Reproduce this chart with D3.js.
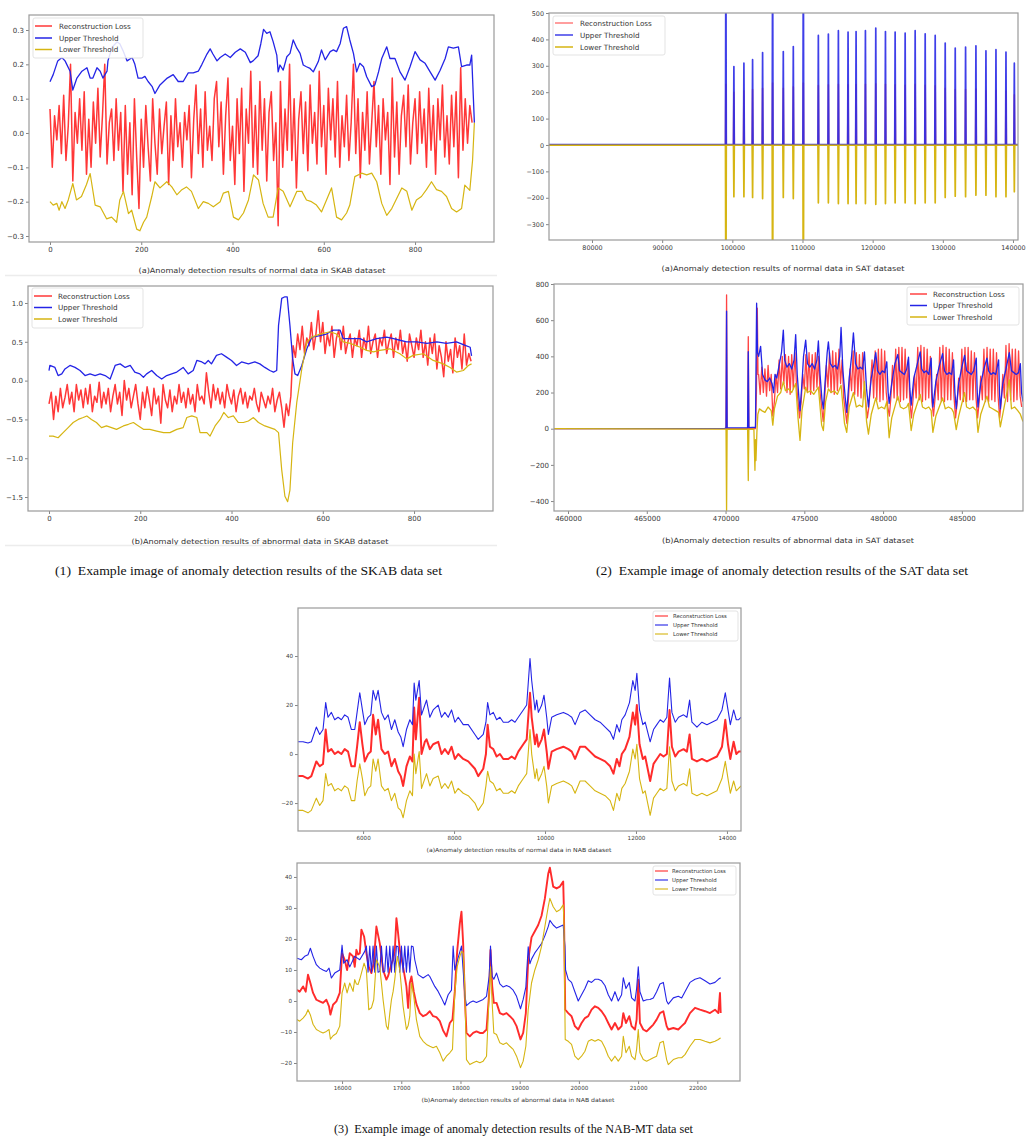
<!DOCTYPE html>
<html><head><meta charset="utf-8">
<script src="https://cdn.jsdelivr.net/npm/d3@7"></script>
<style>html,body{margin:0;padding:0;background:#fff}svg{display:block}</style>
</head><body>
<script>
// ---------------- DATA ----------------
const seriesNames = ['Reconstruction Loss','Upper Threshold','Lower Threshold'];

// (1a) SKAB normal
const skabNormStep = 5;
const skabNormRecon = [.07,-.1,.05,-.02,.08,-.06,.11,-.08,.02,.2,-.14,.06,-.03,.1,-.05,
 .12,-.12,.04,-.1,.09,-.03,.13,-.07,.05,.2,-.09,.03,.07,-.08,.1,
 -.05,.06,-.17,.08,-.12,.03,-.18,.1,-.07,-.22,.04,-.1,.08,-.04,-.14,
 .1,-.03,-.12,.07,-.06,.02,.09,-.15,.05,-.08,.1,-.04,.03,-.1,.06,
 -.02,.08,-.13,.04,.14,-.06,.07,-.1,.12,-.05,.02,-.08,.1,.15,-.04,
 .09,-.12,.05,.16,-.08,.02,-.15,.1,-.06,.13,-.17,.07,-.03,.18,-.1,
 .08,-.12,.15,-.05,.1,-.14,.06,.12,-.08,.03,-.27,.15,-.1,.07,-.05,
 .2,-.08,.1,-.16,.04,.12,-.06,.09,-.11,.14,-.03,.06,-.09,.18,-.04,
 .08,-.12,.13,-.02,.1,-.07,.15,-.1,.05,-.04,.11,-.08,.03,.2,-.06,
 .1,-.13,.06,-.05,.12,-.09,.03,.15,-.04,.08,-.12,.1,-.02,.06,-.15,
 .16,-.07,.09,-.12,.05,.11,-.04,.14,-.09,.03,.1,-.06,.12,-.03,.07,
 -.1,.13,-.05,.08,-.12,.1,-.02,.14,-.07,.05,-.09,.11,-.04,.12,-.13,
 .19,-.05,.1,-.03,.08,.03];
const skabNormUpper = [[0,.149],[7,.17],[17,.21],[26,.22],[33,.21],[44,.18],[50,.125],[59,.16],[70,.18],[81,.19],[88,.16],[94,.16],[103,.19],[110,.18],[116,.16],[125,.18],[127,.21],[136,.25],[147,.265],[153,.26],[160,.24],[169,.21],[180,.22],[186,.2],[193,.16],[202,.16],[208,.165],[215,.15],[224,.135],[230,.115],[241,.14],[257,.16],[270,.17],[281,.15],[292,.15],[303,.175],[314,.175],[325,.18],[333,.2],[344,.23],[351,.245],[357,.23],[366,.21],[373,.22],[384,.23],[395,.22],[406,.235],[417,.245],[428,.235],[439,.205],[445,.21],[456,.225],[462,.26],[468,.302],[475,.29],[482,.295],[489,.266],[497,.227],[500,.178],[504,.198],[511,.183],[519,.222],[526,.232],[533,.271],[541,.247],[548,.232],[555,.198],[562,.193],[570,.188],[577,.178],[588,.208],[595,.242],[603,.213],[614,.237],[621,.242],[628,.237],[636,.261],[643,.305],[650,.31],[657,.271],[665,.232],[672,.178],[679,.203],[687,.193],[694,.164],[705,.135],[712,.14],[720,.178],[727,.217],[738,.251],[745,.217],[756,.217],[767,.178],[778,.154],[789,.193],[800,.237],[811,.213],[822,.203],[833,.178],[844,.154],[855,.183],[866,.217],[873,.251],[884,.247],[895,.251],[902,.193],[913,.198],[920,.198],[924,.227],[928,.096],[930,.03]];
const skabNormLower = [[0,-.2],[7,-.21],[15,-.205],[20,-.225],[26,-.2],[33,-.22],[40,-.195],[50,-.147],[58,-.195],[69,-.185],[80,-.15],[88,-.118],[99,-.21],[110,-.215],[124,-.25],[135,-.245],[146,-.26],[153,-.195],[161,-.17],[172,-.235],[179,-.225],[190,-.28],[197,-.285],[205,-.26],[212,-.245],[223,-.185],[230,-.142],[241,-.16],[256,-.142],[267,-.157],[278,-.18],[289,-.165],[299,-.157],[310,-.17],[325,-.22],[336,-.2],[347,-.205],[358,-.215],[373,-.2],[380,-.175],[391,-.17],[402,-.245],[413,-.253],[424,-.233],[435,-.195],[446,-.122],[457,-.137],[467,-.205],[478,-.245],[489,-.245],[500,-.16],[511,-.17],[526,-.215],[541,-.17],[552,-.17],[562,-.195],[573,-.2],[584,-.21],[595,-.23],[606,-.195],[617,-.16],[628,-.245],[639,-.253],[650,-.233],[657,-.21],[668,-.127],[683,-.117],[694,-.122],[705,-.117],[716,-.142],[727,-.205],[738,-.24],[749,-.22],[760,-.19],[771,-.16],[782,-.17],[793,-.225],[803,-.195],[814,-.185],[825,-.165],[836,-.142],[847,-.165],[858,-.17],[869,-.185],[880,-.22],[891,-.23],[902,-.22],[909,-.152],[920,-.167],[926,-.08],[930,.03]];

// (1b) SKAB abnormal
const skabAbnStep = 5;
const skabAbnRecon = [-.3,-.15,-.5,-.2,-.4,-.1,-.35,-.22,-.05,-.3,-.15,-.4,-.05,-.25,-.12,
 -.35,-.1,-.3,-.05,-.4,-.2,-.28,-.02,-.35,-.15,-.3,-.1,-.4,-.2,-.05,
 -.3,-.15,-.45,0,-.25,-.1,-.35,-.2,-.05,-.3,-.5,-.15,-.35,-.08,-.25,
 -.45,-.1,-.3,-.2,-.55,-.05,-.25,-.35,-.12,-.4,-.2,-.3,-.05,-.28,-.15,
 -.35,-.1,-.3,-.18,-.4,-.05,-.25,-.2,-.3,.1,-.15,-.35,-.05,-.25,-.1,
 -.3,-.15,-.35,-.05,-.2,-.3,-.12,-.4,-.2,-.1,-.3,-.15,-.35,-.2,-.25,
 -.1,-.3,-.4,-.15,-.25,-.35,-.2,-.3,-.1,-.4,-.25,-.15,-.35,-.6,-.3,
 -.45,-.2,.45,.3,.6,.4,.7,.35,.55,.45,.75,.4,.6,.9,.5,
 .75,.35,.6,.45,.7,.3,.55,.65,.4,.7,.35,.5,.6,.3,.55,
 .45,.65,.3,.55,.4,.7,.35,.5,.6,.3,.55,.45,.65,.35,.5,
 .6,.3,.55,.4,.65,.35,.5,.25,.6,.45,.3,.55,.4,.65,.3,
 .5,.2,.55,.35,.6,.15,.45,.3,.05,.5,.25,.4,.1,.55,.3,
 .45,.15,.6,.2,.35,.25];
const skabAbnUpper = [[0,.13],[2,.195],[13,.17],[20,.065],[28,.087],[35,.15],[46,.195],[57,.17],[68,.13],[79,.065],[90,.087],[101,.065],[112,.087],[123,.065],[134,.02],[145,.195],[156,.216],[167,.17],[178,.195],[188,.11],[199,.087],[207,.043],[214,.087],[225,.13],[236,.065],[247,.02],[258,.065],[269,.087],[280,.11],[294,.17],[305,.087],[316,.13],[324,.26],[335,.24],[342,.216],[349,.26],[356,.216],[367,.325],[378,.346],[389,.303],[400,.26],[411,.195],[422,.24],[437,.216],[451,.24],[462,.216],[473,.17],[484,.13],[492,.11],[499,.13],[503,.71],[510,1.06],[517,1.08],[522,1.08],[528,.71],[534,.28],[539,.087],[545,.065],[554,.195],[565,.41],[576,.56],[594,.58],[608,.6],[623,.65],[638,.65],[645,.54],[660,.54],[682,.54],[696,.5],[718,.54],[740,.56],[755,.54],[769,.52],[784,.5],[806,.5],[828,.48],[850,.5],[871,.48],[893,.5],[912,.455],[923,.43],[926,.32]];
const skabAbnLower = [[0,-.715],[9,-.715],[20,-.736],[31,-.67],[42,-.606],[53,-.54],[64,-.5],[75,-.476],[83,-.455],[93,-.5],[104,-.54],[115,-.606],[126,-.584],[137,-.606],[148,-.628],[163,-.584],[174,-.563],[185,-.54],[196,-.584],[207,-.628],[221,-.628],[236,-.65],[251,-.67],[265,-.67],[280,-.628],[294,-.606],[302,-.476],[313,-.455],[324,-.476],[331,-.67],[346,-.67],[353,-.715],[364,-.584],[375,-.5],[383,-.41],[393,-.476],[404,-.455],[415,-.54],[426,-.54],[437,-.52],[448,-.476],[459,-.54],[473,-.584],[484,-.606],[495,-.628],[503,-.67],[510,-1.15],[517,-1.49],[523,-1.56],[528,-1.41],[534,-.8],[543,-.28],[554,.15],[565,.5],[576,.56],[594,.6],[616,.63],[630,.6],[645,.5],[660,.48],[682,.43],[696,.39],[711,.37],[725,.39],[747,.41],[769,.346],[784,.28],[798,.325],[820,.346],[842,.26],[864,.216],[879,.17],[893,.11],[908,.13],[919,.195],[926,.216]];

// (2a) SAT normal
const satNormRange = [73872, 140713];
const satSpikeX = [99080,100222,101650,102886,104313,105740,107263,108690,110118,112259,113687,115114,116494,117636,118968,120443,121823,123203,124630,126057,127485,128912,130339,131767,133242,134717,136144,137572,138999,140189];
const satUpperPeak = [800,297,310,323,350,800,354,373,800,415,420,433,428,430,433,443,430,428,424,433,421,415,386,367,371,376,357,361,352,310];
const satLowerPeak = [-700,-196,-196,-199,-203,-700,-199,-203,-700,-219,-219,-222,-222,-222,-222,-225,-222,-219,-219,-222,-219,-219,-199,-194,-196,-190,-190,-196,-196,-177];
const satReconPeak = [230,200,205,210,215,235,215,220,235,225,228,230,228,229,230,232,230,228,226,230,226,224,215,210,210,212,205,206,204,190];
const satBase = {recon: 0, upper: 1, lower: -1};

// (2b) SAT abnormal
const satAbnReconHead = [[459110,0],[469990,0],[470030,0],[470065,740],[470100,0],[471400,0],[471443,509],[471480,0],[471900,0],[471960,200],[472015,667],[472060,300]];
const satAbnReconTailStart = 472100, satAbnReconTailStep = 100;
const satAbnReconTail = [300,190,340,200,330,180,350,210,300,
 70,150,300,200,380,220,400,250,410,200,
 400,190,410,220,420,250,150,60,150,300,
 220,410,200,420,190,410,210,420,230,400,
 200,120,40,180,350,230,420,200,430,190,
 420,210,440,250,380,170,100,30,160,330,
 210,430,190,420,180,410,170,420,240,150,
 60,120,250,380,170,430,160,440,150,440,
 160,430,200,120,70,180,350,170,440,160,
 450,150,450,160,440,170,380,150,60,160,
 300,170,450,160,460,150,450,160,440,170,
 400,150,70,170,300,160,450,150,460,150,
 450,160,440,160,420,180,60,140,280,160,
 440,150,450,150,450,160,430,160,420,170,
 60,150,290,160,440,150,450,150,440,160,
 440,150,420,180,60,150,300,170,460,150,
 470,160,440,150,440,160,430,180,120];
const satAbnUpper = [[459110,0],[469950,2],[470030,4],[470065,650],[470100,5],[471400,5],[471443,426],[471480,6],[471900,8],[471972,694],[472030,420],[472100,400],[472226,455],[472350,300],[472500,270],[472650,260],[472800,280],[472950,250],[473050,200],[473138,300],[473250,280],[473400,350],[473550,420],[473668,545],[473750,380],[473900,340],[474050,360],[474200,330],[474350,380],[474452,520],[474550,300],[474650,180],[474727,100],[474850,250],[474950,400],[475087,490],[475200,360],[475350,340],[475500,360],[475650,330],[475800,380],[475893,485],[476000,300],[476120,160],[476210,110],[476350,300],[476450,420],[476528,480],[476650,360],[476800,340],[476950,350],[477100,330],[477250,400],[477333,560],[477450,320],[477600,170],[477693,90],[477850,280],[478000,400],[478117,530],[478250,360],[478400,330],[478550,340],[478700,330],[478817,425],[478950,220],[479071,120],[479250,280],[479400,350],[479537,420],[479650,320],[479800,300],[479950,320],[480100,310],[480236,370],[480320,200],[480385,140],[480550,250],[480750,360],[480936,410],[481050,320],[481200,310],[481350,300],[481500,330],[481614,395],[481700,220],[481783,130],[481950,280],[482150,350],[482355,425],[482450,330],[482600,310],[482750,320],[482900,300],[483054,390],[483110,200],[483160,120],[483350,260],[483550,340],[483775,415],[483900,320],[484050,300],[484200,310],[484350,300],[484474,380],[484560,200],[484644,110],[484800,250],[485000,340],[485174,405],[485300,320],[485450,310],[485600,300],[485750,320],[485915,390],[485970,220],[486022,120],[486200,250],[486400,330],[486593,390],[486700,320],[486850,300],[487000,310],[487150,300],[487335,380],[487390,200],[487442,110],[487600,250],[487800,330],[488013,420],[488150,320],[488300,310],[488450,300],[488600,310],[488712,360],[488790,200],[488880,150]];
const satAbnLower = [[459110,0],[469950,-2],[470030,-3],[470065,-460],[470100,-3],[471400,-3],[471443,-287],[471480,-3],[471800,-3],[471866,-230],[471900,-60],[471930,-176],[471990,-20],[472050,80],[472150,110],[472300,100],[472500,90],[472700,120],[472900,100],[473000,20],[473100,110],[473300,180],[473500,200],[473668,260],[473800,210],[474000,220],[474200,200],[474452,250],[474600,60],[474727,-65],[474850,100],[475000,180],[475087,230],[475200,200],[475400,210],[475600,190],[475893,230],[476100,20],[476210,-10],[476350,150],[476528,220],[476700,200],[476900,210],[477100,190],[477333,240],[477550,30],[477693,-20],[477850,120],[478117,200],[478300,120],[478500,130],[478700,120],[478817,260],[478950,40],[479071,-30],[479250,80],[479537,170],[479700,110],[479900,120],[480100,110],[480236,150],[480385,-50],[480550,60],[480936,180],[481100,120],[481300,110],[481500,120],[481614,140],[481783,-10],[481950,80],[482355,190],[482500,120],[482700,110],[482900,120],[483054,100],[483160,-20],[483350,70],[483775,170],[483950,110],[484150,120],[484350,110],[484474,90],[484644,-5],[484800,70],[485174,200],[485300,120],[485500,110],[485700,120],[485915,100],[486022,-20],[486200,80],[486593,180],[486750,120],[486950,110],[487150,100],[487335,90],[487442,10],[487600,80],[488013,270],[488150,110],[488350,120],[488550,100],[488712,80],[488880,40]];

// (3a) NAB normal
const nabNormX = [4569,4679,4789,4862,4972,5046,5119,5178,5229,5303,5376,5450,5523,5596,5670,5743,5817,5868,5927,5985,6037,6110,6169,6220,6279,6330,6404,6477,6551,6624,6697,6771,6829,6881,6954,7028,7086,7123,7160,7233,7285,7358,7395,7468,7541,7652,7725,7798,7872,7945,8019,8092,8202,8312,8459,8532,8642,8701,8738,8789,8863,8936,9009,9083,9193,9266,9340,9413,9523,9597,9670,9707,9780,9817,9854,9927,9978,10037,10074,10147,10257,10404,10514,10588,10661,10771,10881,10991,11101,11211,11322,11432,11505,11578,11637,11689,11762,11857,11931,11982,12019,12078,12151,12202,12312,12386,12459,12533,12606,12679,12738,12790,12863,12936,13046,13120,13179,13230,13340,13450,13560,13670,13780,13891,13964,14023,14074,14147,14206,14258,14309];
const nabNormUpper = [5,5,4.5,5,11,8,10,21,15,17,14,15,14,16,15,10,10,17,25,18,12,15,16,26,22,26,17,14,16,10,14,9,7,3,10,14,12,29,22,30,16,20,22,15,18,20,15,17,15,18,13,15,12,12,8,6,8,13,21,16,17,14,15,13,13,14,13,15,18,20,39,30,18,22,17,20,24,15,8,15,16,17,16,15,12,17,18,16,14,13,11,9,6,12,9,14,16,21,30,26,33,18,12,13,5,10,12,14,13,15,31,17,13,15,16,15,22,13,11,13,12,13,14,18,25,18,12,18,14,14,15];
const nabNormRecon = [-9,-9,-10,-9,-3,-5,-4,10,1,2,0,1,0,2,1,-5,-5,3,13,4,-3,0,1,16,8,14,2,0,1,-5,-2,-7,-9,-13,-5,-1,-3,19,6,23,0,5,6,2,4,5,0,2,0,3,-2,0,-2,-3,-6,-9,-6,0,12,3,2,-1,0,-2,-2,-1,-2,1,4,6,25,15,4,8,3,6,10,1,-6,1,2,3,2,1,-2,3,3,1,-1,-2,-3,-5,-8,-2,-5,0,2,7,17,12,20,4,-2,-1,-11,-4,-2,0,-1,0,18,3,-1,1,2,1,8,-2,-3,-2,-3,-2,-1,3,14,4,-2,5,0,1,1];
const nabNormLower = [-23,-23,-24,-23,-18,-21,-19,-8,-13,-12,-15,-14,-15,-13,-14,-19,-19,-11,-4,-10,-17,-14,-13,-2,-7,-2,-13,-15,-14,-19,-16,-22,-23,-26,-19,-15,-17,0,-8,1,-14,-10,-8,-13,-10,-9,-14,-12,-14,-11,-16,-14,-16,-17,-20,-23,-20,-13,-7,-11,-12,-15,-14,-16,-16,-15,-16,-13,-10,-8,10,0,-10,-6,-11,-8,-5,-13,-20,-13,-12,-11,-12,-13,-16,-11,-11,-13,-15,-16,-17,-19,-23,-16,-19,-14,-12,-7,2,-2,4,-10,-16,-15,-25,-18,-16,-14,-15,-14,3,-11,-15,-13,-12,-13,-6,-16,-17,-16,-17,-16,-15,-10,-3,-10,-16,-11,-15,-14,-13];

// (3b) NAB abnormal
const nabAbnX = [15239,15284,15341,15386,15425,15465,15510,15566,15623,15679,15735,15780,15803,15848,15904,15961,16000,16045,16085,16130,16186,16214,16242,16270,16299,16327,16372,16411,16451,16496,16535,16580,16637,16693,16749,16777,16806,16834,16862,16890,16918,16935,16975,17031,17087,17116,17144,17172,17211,17256,17313,17369,17425,17482,17538,17594,17651,17707,17763,17820,17865,17904,17944,17989,18017,18045,18073,18101,18158,18214,18270,18327,18383,18440,18485,18507,18535,18563,18609,18665,18721,18778,18834,18890,18947,19014,19059,19104,19144,19200,19256,19313,19369,19425,19482,19510,19566,19623,19679,19735,19747,19769,19820,19876,19932,19989,20045,20102,20158,20214,20271,20327,20383,20440,20496,20552,20609,20665,20721,20750,20795,20851,20890,20947,20975,21003,21031,21087,21144,21200,21257,21313,21369,21426,21482,21510,21595,21679,21736,21792,21876,21961,22045,22130,22214,22299,22355,22383,22395];
const nabAbnRecon = [3.6,3,4.7,3,8.5,5.8,2.6,0.4,-0.1,-0.6,0.4,-1.7,-4.4,-1.2,-0.1,2.6,15.4,13.3,10,15.4,14.4,11,16.5,15,15.4,23,20.8,15.4,11,9,12.2,24,18.6,10,6.9,8,10,12,13.3,16,26.7,24,16.5,11,4.7,-2.2,5.8,7.9,3,-1,-3.9,-4.9,-4.4,-3.3,-4.9,-5.2,-6.5,-9.5,-11.4,-7.1,-6,3.1,16,25,28.8,18.6,1.5,-10.3,-11.4,-10.3,-9.8,-10.3,-10.3,-9.2,2.6,16.5,5,-0.6,-0.6,-3.9,-4.4,-3.9,-4.9,-6,-8.1,-12.4,-10.3,-3.9,13.3,20.5,22.5,24.5,27.5,33,41,43,36.9,36.3,36.9,38.5,29.4,-2.8,-3.9,-4.9,-8.1,-9.2,-7.1,-5.5,-4.9,-2.8,-1.7,-2.2,-3.3,-4.9,-7.1,-9.2,-7.1,-9.2,-8.1,-3.9,-7.1,-4.9,-8.1,-9.2,-6,6.9,-7.1,-9.2,-9.8,-8.7,-7.6,-6,-3.9,-3.3,-8.1,-9.2,-8.7,-9.2,-8.1,-7.1,-3.9,-2.2,-2.8,-3.3,-3.9,-2.8,-3.9,2.6,-3.9];
const nabAbnLower = [-6,-6.5,-5.5,-4.5,-2.8,-4.5,-7.5,-9.2,-9.8,-10.3,-9.8,-9.2,-12.3,-11.2,-10.5,-8.1,2.6,5.8,2.6,5.8,3.1,6.9,5.5,5.3,7,9,12.2,10,-2.8,-2.2,0.4,13.3,11,0.4,-8.1,-9.2,-4,0.4,3,6.9,12,14.4,10,-1.7,-9.2,-8,-4.9,5.8,1.5,-6,-11.4,-13,-14,-14.6,-15.1,-14.6,-16.7,-19.4,-17.8,-16.7,-15.6,2.6,11,14.4,16,15.5,4.7,-18.9,-20.5,-19.9,-19.4,-19.9,-19.4,-17.8,2.6,11,-0.6,-10.3,-10.8,-13.5,-14,-13.5,-14.6,-15.6,-17.8,-21.5,-19.4,-14.6,-2.8,5.8,10,13.3,17.6,24,30.4,33.1,30.4,28.8,29.4,31,26,-12.4,-13,-14,-17.8,-18.9,-17.8,-16.2,-13,-12.4,-13,-12.4,-13,-15.1,-17.8,-19.4,-17.8,-19.4,-17.8,-11.4,-16.7,-14.6,-17.8,-18.9,-15.6,-9.2,-16.7,-18.9,-19.4,-18.9,-18.3,-17.8,-13.5,-13,-18.9,-20.5,-18.9,-18.3,-18.3,-17.3,-14.6,-12.4,-12.4,-13,-13.5,-13,-12.4,-12,-11.9];
const nabAbnUpper = [[15239,13.8],[15312,13.3],[15369,14.4],[15425,14.9],[15465,17],[15510,14.4],[15566,11.7],[15623,10.6],[15679,10],[15735,9.5],[15780,10.6],[15820,7.4],[15876,9],[15961,10],[16000,18],[16028,12.2],[16085,13.3],[16130,11],[16214,14.4],[16299,13.3],[16383,16],[16411,17.7],[16439,9.3],[16468,17.7],[16496,9.3],[16524,17.7],[16552,9.3],[16580,17.7],[16608,9.3],[16637,9.5],[16665,17.7],[16693,9.3],[16721,9.5],[16749,17.7],[16777,9.3],[16806,17.7],[16834,9.3],[16862,17.7],[16890,9.3],[16918,17.7],[16947,17.5],[16975,9.3],[17003,17.7],[17031,9.3],[17059,17.7],[17087,9.3],[17116,17.7],[17144,9.3],[17172,17.7],[17200,17.5],[17228,13.3],[17285,8.5],[17369,7.4],[17454,8.5],[17482,7.9],[17566,4.7],[17623,3.1],[17679,1],[17735,-1.3],[17792,2],[17848,3.5],[17876,17.7],[17904,10],[17961,14],[18017,17.7],[18045,10],[18073,2],[18101,-1.5],[18158,-0.5],[18214,0],[18270,-0.5],[18327,0],[18383,0.5],[18440,1.5],[18485,8],[18507,17.7],[18535,8],[18563,7],[18609,9],[18665,5.5],[18721,4.5],[18778,5],[18834,4.5],[18890,3.5],[18947,1.5],[19014,-2.5],[19059,0.5],[19104,4.5],[19144,17.5],[19172,12],[19200,13.5],[19256,15.5],[19313,17],[19369,18.5],[19425,21],[19482,24],[19510,26],[19566,24.5],[19623,23.5],[19679,24],[19735,24.5],[19764,17.7],[19775,10],[19820,7],[19876,6],[19932,3],[19989,0],[20045,2],[20102,4],[20158,6.5],[20214,6],[20271,7],[20327,7],[20383,6.5],[20440,5],[20496,2],[20552,0],[20609,3],[20665,0],[20721,2],[20750,7.5],[20795,4],[20851,6],[20890,1],[20947,0],[20975,4],[21003,11],[21031,3],[21087,0],[21144,0.4],[21200,0.5],[21257,1],[21313,3],[21369,5.5],[21426,6],[21482,0],[21510,-1],[21595,1],[21679,1.5],[21736,1],[21792,3],[21876,6],[21961,7],[22045,7.5],[22130,6.5],[22214,5.5],[22299,6],[22355,7],[22395,7.5]];

// tick values
const skabXTicks = [0,200,400,600,800];
const skabNormYTicks = [-0.3,-0.2,-0.1,0,0.1,0.2,0.3];
const skabAbnYTicks = [-1.5,-1.0,-0.5,0,0.5,1.0];
const satNormXTicks = [80000,90000,100000,110000,120000,130000,140000];
const satNormYTicks = [-300,-200,-100,0,100,200,300,400,500];
const satAbnXTicks = [460000,465000,470000,475000,480000,485000];
const satAbnYTicks = [-400,-200,0,200,400,600,800];
const nabNormXTicks = [6000,8000,10000,12000,14000];
const nabNormYTicks = [-20,0,20,40];
const nabAbnXTicks = [16000,17000,18000,19000,20000,21000,22000];
const nabAbnYTicks = [-20,-10,0,10,20,30,40];

// ---------------- DRAW ----------------
const W = 1031, H = 1143;
const RED = '#ff1414', BLUE = '#2424e6', YEL = '#d6b512';
const svg = d3.select('body').append('svg').attr('width', W).attr('height', H);
svg.append('rect').attr('width', W).attr('height', H).attr('fill', '#fff');
const defs = svg.append('defs');

const stepPts = (vals, x0, step) => vals.map((v, i) => [x0 + i * step, v]);
const zip = (xs, vs) => xs.map((x, i) => [x, vs[i]]);
function spikePts(xs, peaks, base, range, hw) {
  const pts = [[range[0], base]];
  xs.forEach((x, i) => { pts.push([x - hw, base], [x, peaks[i]], [x + hw, base]); });
  pts.push([range[1], base]);
  return pts;
}

function panel(p) {
  const g = svg.append('g');
  const x = d3.scaleLinear().domain(p.xd).range([p.l, p.r]);
  const y = d3.scaleLinear().domain(p.yd).range([p.b, p.t]);
  const cid = 'clip' + p.id;
  defs.append('clipPath').attr('id', cid).append('rect')
    .attr('x', p.l).attr('y', p.t).attr('width', p.r - p.l).attr('height', p.b - p.t);
  const plot = g.append('g').attr('clip-path', `url(#${cid})`);
  const line = d3.line().x(d => x(d[0])).y(d => y(d[1]));
  p.series.forEach(s => {
    plot.append('path').attr('d', line(s.pts)).attr('fill', 'none')
      .attr('stroke', s.c).attr('stroke-width', s.w).attr('stroke-opacity', s.o)
      .attr('stroke-linejoin', 'round');
  });
  const fmtX = p.xf || d3.format('d'), fmtY = p.yf || d3.format('d');
  const ax = g.append('g').attr('transform', `translate(0,${p.b})`)
    .call(d3.axisBottom(x).tickValues(p.xt).tickSize(3).tickPadding(2).tickFormat(fmtX));
  const ay = g.append('g').attr('transform', `translate(${p.l},0)`)
    .call(d3.axisLeft(y).tickValues(p.yt).tickSize(3).tickPadding(2).tickFormat(fmtY));
  [ax, ay].forEach(a => {
    a.select('.domain').remove();
    a.selectAll('line').attr('stroke', '#666').attr('stroke-width', 0.8);
    a.selectAll('text').attr('font-size', p.fs).attr('fill', '#3a3a3a')
      .attr('font-family', 'DejaVu Sans, sans-serif');
  });
  g.append('rect').attr('x', p.l).attr('y', p.t).attr('width', p.r - p.l).attr('height', p.b - p.t)
    .attr('fill', 'none').attr('stroke', '#9a9a9a').attr('stroke-width', 1.2);
  const L = p.leg;
  const lg = g.append('g');
  lg.append('rect').attr('x', L.x).attr('y', L.y).attr('width', L.w).attr('height', L.h)
    .attr('rx', 2).attr('fill', '#fff').attr('fill-opacity', 0.85).attr('stroke', '#dcdcdc').attr('stroke-width', 0.8);
  p.series.forEach((s, i) => {
    const yy = L.rows[i];
    lg.append('line').attr('x1', L.lx0).attr('x2', L.lx1).attr('y1', yy).attr('y2', yy)
      .attr('stroke', s.c).attr('stroke-width', L.lw).attr('stroke-opacity', s.o);
    lg.append('text').attr('x', L.tx).attr('y', yy).attr('dy', '0.35em')
      .attr('font-size', L.fs).attr('fill', '#333').attr('font-family', 'DejaVu Sans, sans-serif')
      .text(seriesNames[i]);
  });
  const C = p.cap;
  g.append('text').attr('x', C.cx).attr('y', C.y).attr('text-anchor', 'middle')
    .attr('font-size', C.fs).attr('fill', '#333').attr('font-family', 'DejaVu Sans, sans-serif')
    .attr('textLength', C.len).attr('lengthAdjust', 'spacingAndGlyphs').text(C.text);
}

const f1 = d3.format('.1f');

panel({id: 'p1', l: 29, r: 494, t: 15, b: 242, xd: [-46, 973], yd: [-0.3175, 0.3437],
  xt: skabXTicks, yt: skabNormYTicks, yf: f1, fs: 7,
  series: [
    {pts: stepPts(skabNormRecon, 0, skabNormStep), c: RED, w: 1.5, o: 0.85},
    {pts: skabNormUpper, c: BLUE, w: 1.3, o: 1},
    {pts: skabNormLower, c: YEL, w: 1.2, o: 1}],
  leg: {x: 33, y: 18, w: 110, h: 40, rows: [26, 38, 49.5], lx0: 35, lx1: 52, tx: 59, fs: 7.2, lw: 1.5},
  cap: {text: '(a)Anomaly detection results of normal data in SKAB dataset', cx: 262, y: 273, fs: 7.3, len: 247}
});

panel({id: 'p3', l: 28, r: 493, t: 286, b: 511, xd: [-46, 973], yd: [-1.68, 1.219],
  xt: skabXTicks, yt: skabAbnYTicks, yf: f1, fs: 7,
  series: [
    {pts: stepPts(skabAbnRecon, 0, skabAbnStep), c: RED, w: 1.5, o: 0.85},
    {pts: skabAbnUpper, c: BLUE, w: 1.3, o: 1},
    {pts: skabAbnLower, c: YEL, w: 1.2, o: 1}],
  leg: {x: 32, y: 288, w: 111, h: 40, rows: [296, 307.5, 319], lx0: 34, lx1: 52, tx: 58, fs: 7.2, lw: 1.5},
  cap: {text: '(b)Anomaly detection results of abnormal data in SKAB dataset', cx: 260, y: 544, fs: 7.3, len: 257}
});

panel({id: 'p2', l: 549, r: 1018, t: 13, b: 240, xd: satNormRange, yd: [-360, 500],
  xt: satNormXTicks, yt: satNormYTicks, fs: 6.4,
  series: [
    {pts: spikePts(satSpikeX, satReconPeak, satBase.recon, satNormRange, 60), c: RED, w: 1.6, o: 0.55},
    {pts: spikePts(satSpikeX, satUpperPeak, satBase.upper, satNormRange, 60), c: BLUE, w: 1.7, o: 0.88},
    {pts: spikePts(satSpikeX, satLowerPeak, satBase.lower, satNormRange, 60), c: YEL, w: 1.7, o: 1}],
  leg: {x: 553, y: 16, w: 112, h: 39, rows: [23, 35, 47], lx0: 555, lx1: 573, tx: 580, fs: 7.2, lw: 1.5},
  cap: {text: '(a)Anomaly detection results of normal data in SAT dataset', cx: 783, y: 271, fs: 7.3, len: 243}
});

panel({id: 'p4', l: 554, r: 1023, t: 284, b: 511, xd: [459110, 488882], yd: [-455, 800],
  xt: satAbnXTicks, yt: satAbnYTicks, fs: 7,
  series: [
    {pts: satAbnReconHead.concat(stepPts(satAbnReconTail, satAbnReconTailStart, satAbnReconTailStep)), c: RED, w: 1.3, o: 0.8},
    {pts: satAbnUpper, c: BLUE, w: 1.3, o: 1},
    {pts: satAbnLower, c: YEL, w: 1.3, o: 1}],
  leg: {x: 907, y: 287, w: 112, h: 38, rows: [294, 305.5, 317], lx0: 910, lx1: 927, tx: 933, fs: 7.2, lw: 1.5},
  cap: {text: '(b)Anomaly detection results of abnormal data in SAT dataset', cx: 788, y: 543, fs: 7.3, len: 252}
});

panel({id: 'p5', l: 298, r: 741, t: 608, b: 831, xd: [4569, 14309], yd: [-31.4, 59.6],
  xt: nabNormXTicks, yt: nabNormYTicks, fs: 5.6,
  series: [
    {pts: zip(nabNormX, nabNormRecon), c: RED, w: 2.0, o: 0.9},
    {pts: zip(nabNormX, nabNormUpper), c: BLUE, w: 1.1, o: 1},
    {pts: zip(nabNormX, nabNormLower), c: YEL, w: 1.1, o: 1}],
  leg: {x: 653, y: 611, w: 85, h: 30, rows: [616, 625, 634], lx0: 655, lx1: 668, tx: 673, fs: 5.4, lw: 1.1},
  cap: {text: '(a)Anomaly detection results of normal data in NAB dataset', cx: 519, y: 852, fs: 5.6, len: 185}
});

panel({id: 'p6', l: 297, r: 740, t: 863, b: 1081, xd: [15239, 22721], yd: [-25.8, 44.5],
  xt: nabAbnXTicks, yt: nabAbnYTicks, fs: 5.6,
  series: [
    {pts: zip(nabAbnX, nabAbnRecon), c: RED, w: 1.9, o: 0.9},
    {pts: nabAbnUpper, c: BLUE, w: 1.1, o: 1},
    {pts: zip(nabAbnX, nabAbnLower), c: YEL, w: 1.1, o: 1}],
  leg: {x: 653, y: 866, w: 83, h: 29, rows: [871, 880, 889], lx0: 655, lx1: 668, tx: 672, fs: 5.4, lw: 1.1},
  cap: {text: '(b)Anomaly detection results of abnormal data in NAB dataset', cx: 518, y: 1102, fs: 5.6, len: 193}
});

[[5, 497, 275.5], [5, 497, 545.5]].forEach(d => {
  svg.append('line').attr('x1', d[0]).attr('x2', d[1]).attr('y1', d[2]).attr('y2', d[2])
    .attr('stroke', '#ececec').attr('stroke-width', 1.5);
});

const mainCaps = [
  {text: '(1)  Example image of anomaly detection results of the SKAB data set', x0: 55, len: 387, y: 575},
  {text: '(2)  Example image of anomaly detection results of the SAT data set', x0: 596, len: 372, y: 575},
  {text: '(3)  Example image of anomaly detection results of the NAB-MT data set', x0: 334, len: 359, y: 1133}
];
mainCaps.forEach(c => {
  svg.append('text').attr('x', c.x0).attr('y', c.y).attr('font-size', 12.5)
    .attr('font-family', 'Liberation Serif, Times New Roman, serif').attr('fill', '#111')
    .style('white-space', 'pre').attr('textLength', c.len).attr('lengthAdjust', 'spacingAndGlyphs')
    .text(c.text);
});
</script>
</body></html>
